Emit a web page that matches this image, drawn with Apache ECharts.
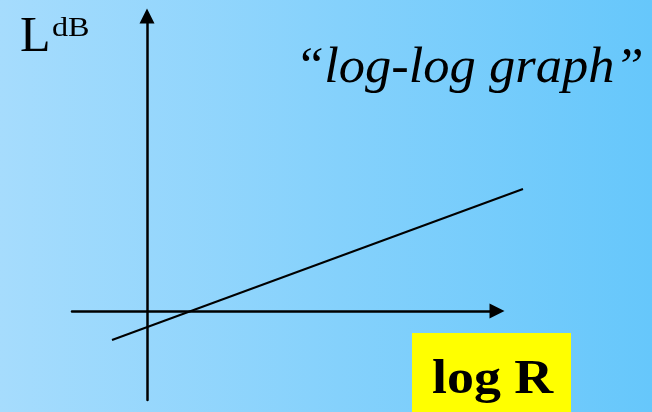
<!DOCTYPE html>
<html>
<head>
<meta charset="utf-8">
<script src="https://cdn.jsdelivr.net/npm/echarts@6/dist/echarts.min.js"></script>
<style>
html,body{margin:0;padding:0;}
#c{width:652px;height:412px;background:linear-gradient(to right,#a6dcfd,#66c7fb);}
</style>
</head>
<body>
<div id="c"></div>
<script>
// Data (arbitrary units: x = log R, y = L in dB)
const lineX = [-0.7, 7.52];
const lineY = [-0.29, 1.22];
const xRange = [-1.5, 7];
const xRangeLine = [-1.5, 7.66];
const yRange = [-0.89, 2.95];
const yName = 'L';
const yNameSup = 'dB';
const xName = 'log R';
const titleText = '\u201Clog-log graph\u201D';

const chart = echarts.init(document.getElementById('c'), null, {renderer: 'canvas'});
const serif = '"Liberation Serif", "Times New Roman", serif';
const hidden = {show: false};
chart.setOption({
  backgroundColor: 'transparent',
  animation: false,
  grid: [
    {left: 72, right: 155, top: 16, bottom: 12},
    {left: 72, right: 122, top: 16, bottom: 12}
  ],
  xAxis: [{
    type: 'value', gridIndex: 0, min: xRange[0], max: xRange[1],
    axisLine: {show: true, onZero: true, symbol: ['none', 'triangle'], symbolSize: [15, 15],
      lineStyle: {color: '#000', width: 2.5}},
    axisTick: hidden, axisLabel: hidden, splitLine: hidden
  }, {
    type: 'value', gridIndex: 1, min: xRangeLine[0], max: xRangeLine[1],
    axisLine: hidden, axisTick: hidden, axisLabel: hidden, splitLine: hidden
  }],
  yAxis: [{
    type: 'value', gridIndex: 0, min: yRange[0], max: yRange[1],
    axisLine: {show: true, onZero: true, symbol: ['none', 'triangle'], symbolSize: [15, 15],
      lineStyle: {color: '#000', width: 2.5}},
    axisTick: hidden, axisLabel: hidden, splitLine: hidden
  }, {
    type: 'value', gridIndex: 1, min: yRange[0], max: yRange[1],
    axisLine: hidden, axisTick: hidden, axisLabel: hidden, splitLine: hidden
  }],
  series: [{
    type: 'line', xAxisIndex: 1, yAxisIndex: 1, clip: false, symbol: 'none',
    data: lineX.map((x, i) => [x, lineY[i]]),
    lineStyle: {color: '#000', width: 2}
  }],
  graphic: [
    {type: 'text', x: 20, y: 38, style: {text: yName, font: '50px ' + serif, fill: '#000', textAlign: 'left', verticalAlign: 'middle'}},
    {type: 'text', x: 52, y: 29, scaleX: 1.15, style: {text: yNameSup, font: '28px ' + serif, fill: '#000', textAlign: 'left', verticalAlign: 'middle'}},
    {type: 'text', x: 295, y: 69, scaleX: 1.05, style: {text: titleText, font: 'italic 50px ' + serif, fill: '#000', textAlign: 'left', verticalAlign: 'middle'}},
    {type: 'rect', shape: {x: 412, y: 333, width: 159, height: 79}, style: {fill: '#ffff00'}},
    {type: 'text', x: 432, y: 380, scaleX: 1.1, style: {text: xName, font: 'bold 49px ' + serif, fill: '#000', textAlign: 'left', verticalAlign: 'middle'}}
  ]
});
</script>
</body>
</html>
